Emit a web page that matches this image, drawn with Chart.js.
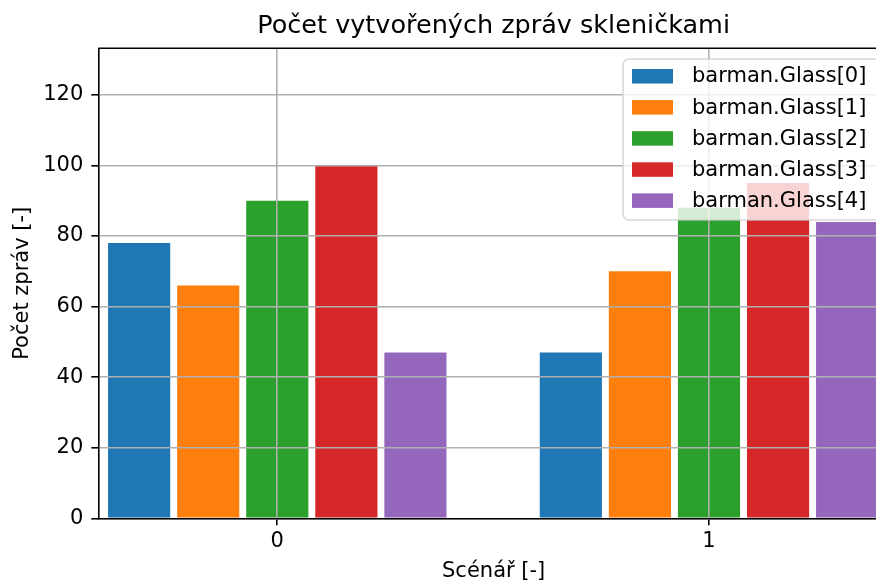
<!DOCTYPE html>
<html>
<head>
<meta charset="utf-8">
<script src="https://cdn.jsdelivr.net/npm/chart.js@4.4.1/dist/chart.umd.min.js"></script>
<style>
  html, body { margin: 0; padding: 0; background: #fff; overflow: hidden; }
  #wrap { width: 876px; height: 581px; overflow: hidden; }
</style>
</head>
<body>
<div id="wrap"><canvas id="glassChart" width="900" height="581"></canvas></div>
<script>
// data
const scenarios = [0, 1];
const seriesNames = ['barman.Glass[0]', 'barman.Glass[1]', 'barman.Glass[2]', 'barman.Glass[3]', 'barman.Glass[4]'];
const glass0 = [78, 47];
const glass1 = [66, 70];
const glass2 = [90, 88];
const glass3 = [100, 95];
const glass4 = [47, 84];
const yTicks = [0, 20, 40, 60, 80, 100, 120];

const colors = ['#1f77b4', '#ff7f0e', '#2ca02c', '#d62728', '#9467bd'];
const FONT = '"DejaVu Sans", sans-serif';

const toPoints = arr => arr.map((v, i) => ({ x: scenarios[i], y: v }));
const allSeries = [glass0, glass1, glass2, glass3, glass4];

// top spine + legend box inside the plot
const frameAndLegend = {
  id: 'frameAndLegend',
  afterDraw(chart) {
    const ctx = chart.ctx;
    const area = chart.chartArea;
    ctx.save();
    ctx.strokeStyle = '#000';
    ctx.lineWidth = 1.6;
    ctx.beginPath();
    ctx.moveTo(area.left, area.top);
    ctx.lineTo(area.right, area.top);
    ctx.stroke();

    ctx.beginPath();
    ctx.roundRect(623, 59, 262, 161, 6);
    ctx.fillStyle = 'rgba(255,255,255,0.8)';
    ctx.fill();
    ctx.strokeStyle = 'rgba(204,204,204,0.8)';
    ctx.lineWidth = 1.5;
    ctx.stroke();

    ctx.font = '21px ' + FONT;
    ctx.textBaseline = 'middle';
    ctx.textAlign = 'left';
    chart.data.datasets.forEach((ds, i) => {
      const cy = 76 + i * 31.1;
      ctx.fillStyle = ds.backgroundColor;
      ctx.fillRect(632, cy - 7, 41, 14.5);
      ctx.fillStyle = '#000';
      ctx.fillText(ds.label, 692, cy + 1);
    });
    ctx.restore();
  }
};

const ctx = document.getElementById('glassChart').getContext('2d');
const glassChart = new Chart(ctx, {
  type: 'bar',
  data: {
    datasets: allSeries.map((s, i) => ({
      label: seriesNames[i],
      data: toPoints(s),
      backgroundColor: colors[i],
      borderWidth: 0,
      categoryPercentage: 0.8,
      barPercentage: 0.9
    }))
  },
  options: {
    responsive: false,
    animation: false,
    layout: { padding: { left: 0, right: 11, top: 0, bottom: 0 } },
    plugins: {
      legend: { display: false },
      tooltip: { enabled: false },
      title: {
        display: true,
        fullSize: false,
        text: 'Počet vytvořených zpráv skleničkami',
        color: '#000',
        font: { family: FONT, size: 25.5, weight: 'normal', lineHeight: 1.2 },
        padding: { top: 11.5, bottom: 6.2 }
      }
    },
    scales: {
      x: {
        type: 'linear',
        offset: false,
        min: -0.4146,
        max: 1.417,
        afterBuildTicks: scale => { scale.ticks = scenarios.map(v => ({ value: v })); },
        afterFit: scale => { scale.height = 62.7; },
        ticks: {
          color: '#000',
          padding: 4.1,
          font: { family: FONT, size: 21, lineHeight: 1.2 }
        },
        grid: {
          z: 1,
          offset: false,
          color: '#b0b0b0',
          lineWidth: 1.6,
          tickLength: 7,
          tickColor: '#000',
          tickWidth: 1.6
        },
        border: { z: 2, display: true, color: '#000', width: 1.6 },
        title: {
          display: true,
          text: 'Scénář [-]',
          color: '#000',
          font: { family: FONT, size: 21, lineHeight: 1 },
          padding: { top: 0, bottom: -1.2 }
        }
      },
      y: {
        min: 0,
        max: 133.2,
        afterBuildTicks: scale => { scale.ticks = yTicks.map(v => ({ value: v })); },
        afterFit: scale => { scale.width = 98.3; },
        ticks: {
          color: '#000',
          padding: 8,
          font: { family: FONT, size: 21 }
        },
        grid: {
          z: 1,
          color: '#b0b0b0',
          lineWidth: 1.6,
          tickLength: 7,
          tickColor: '#000',
          tickWidth: 1.6
        },
        border: { z: 2, display: true, color: '#000', width: 1.6 },
        title: {
          display: true,
          text: 'Počet zpráv [-]',
          color: '#000',
          font: { family: FONT, size: 21, lineHeight: 1.2 },
          padding: { top: 10.2, bottom: 0 }
        }
      }
    }
  },
  plugins: [frameAndLegend]
});
</script>
</body>
</html>
